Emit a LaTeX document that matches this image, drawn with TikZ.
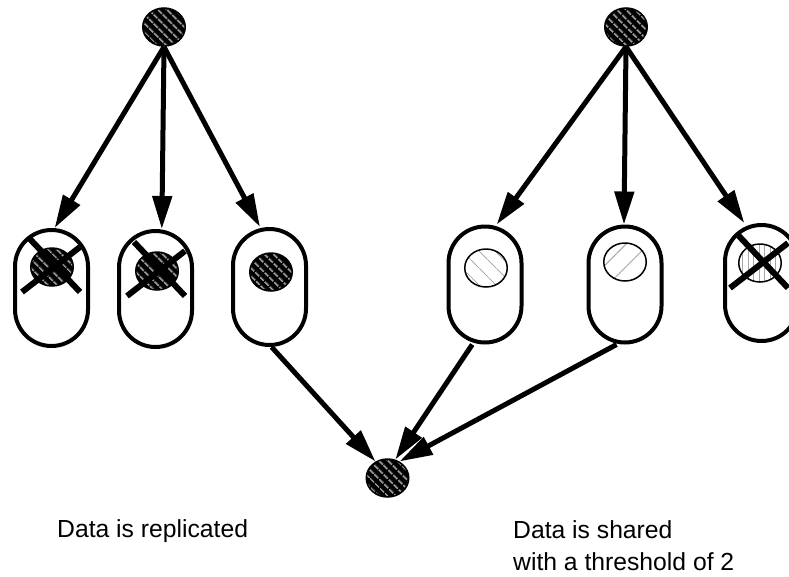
\documentclass[tikz,border=0pt]{standalone}
\usepackage{fontspec}
\setmainfont{Liberation Sans}
\usetikzlibrary{arrows.meta,shapes.geometric,patterns.meta,calc}

\tikzset{
  arr/.style={line width=5pt, -{Triangle[length=33pt,width=19pt]}},
  pill/.style={draw, line width=4pt, rounded corners=36.5pt,
    minimum width=73pt, minimum height=116pt, inner sep=0pt},
  dot/.style={ellipse, draw, line width=1.5pt, minimum width=42.5pt,
    minimum height=38pt, inner sep=0pt},
  darkdot/.style={dot, preaction={fill=black},
    pattern={Lines[angle=-45,distance=6.5pt,line width=1.8pt]}, pattern color=gray!75},
  fallhatch/.style={dot, preaction={fill=white},
    pattern={Lines[angle=-45,distance=13pt,line width=1pt]}, pattern color=gray!70},
  risehatch/.style={dot, preaction={fill=white},
    pattern={Lines[angle=45,distance=16pt,line width=1pt]}, pattern color=gray!70},
  verthatch/.style={dot, preaction={fill=white},
    pattern={Lines[angle=90,distance=5.5pt,line width=1pt]}, pattern color=gray!70},
  xmark/.style={line width=6pt, line cap=butt},
  caption/.style={anchor=base west, inner sep=0pt,
    font=\fontsize{24.7}{32}\selectfont}
}

\begin{document}
\begin{tikzpicture}[x=1pt,y=-1pt]
\useasboundingbox (0,0) rectangle (789,576);
\clip (0,0) rectangle (789,576);

% sources and sink
\node[darkdot] (srcL) at (164,27) {};
\node[darkdot] (srcR) at (626,27) {};
\node[darkdot] (sink) at (387.5,478) {};

% holders, left group (replicated)
\node[pill] (c1) at (51.5,288) {};
\node[pill] (c2) at (155.5,289) {};
\node[pill] (c3) at (269.5,287) {};
\node[darkdot] (d1) at (52,267) {};
\node[darkdot] (d2) at (157,271) {};
\node[darkdot] (d3) at (271,272) {};

% holders, right group (shared)
\node[pill] (c4) at (485,284.5) {};
\node[pill] (c5) at (625,284.5) {};
\node[pill] (c6) at (761.5,283) {};
\node[fallhatch] (d4) at (486,268) {};
\node[risehatch] (d5) at (625,262) {};
\node[verthatch] (d6) at (760,263) {};

% lost pieces
\foreach \d in {d1,d2,d6}
  \draw[xmark] ($(\d)+(-23,-29)$) -- ($(\d)+(28,25)$)
               ($(\d)+(-30,25)$) -- ($(\d)+(28,-20)$);

% distribution
\draw[arr] (srcL.south) -- (c1.87);
\draw[arr] (srcL.south) -- (c2.84);
\draw[arr] (srcL.south) -- (c3.99);
\draw[arr] (srcR.south) -- (c4.79);
\draw[arr] (srcR.south) -- (c5.91);
\draw[arr] (srcR.south) -- (c6.106);

% recovery
\draw[arr] (c3.-88) -- (sink.126);
\draw[arr] (c4.-102.5) -- (sink.67);
\draw[arr] (c5.-98) -- (sink.54);

% captions
\node[caption] (capL) at (57,537) {Data is replicated};
\node[caption] (capR1) at (513,538) {Data is shared};
\node[caption] (capR2) at (513,570) {with a threshold of 2};
\end{tikzpicture}
\end{document}
